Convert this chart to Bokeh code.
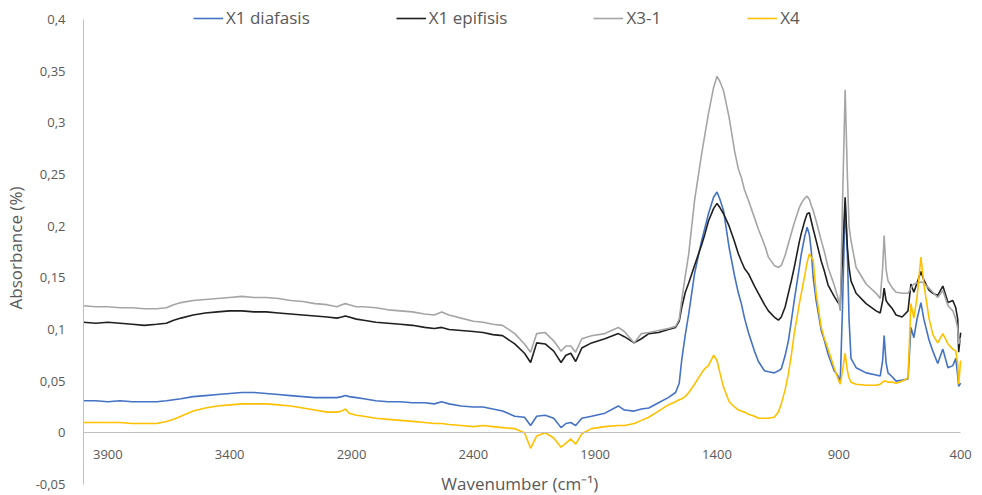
from bokeh.plotting import figure
from bokeh.models import (Range1d, LinearAxis, FixedTicker, CustomJSTickFormatter,
                          Legend, LegendItem)
from bokeh.embed import file_html
from bokeh.resources import INLINE

# ---- data ----
wavenumber = [
    4000, 3950, 3900, 3850, 3800, 3750, 3700, 3660, 3630, 3600,
    3550, 3500, 3450, 3400, 3350, 3300, 3250, 3200, 3150, 3100,
    3050, 3000, 2960, 2940, 2925, 2910, 2880, 2850, 2800, 2750,
    2700, 2650, 2600, 2560, 2530, 2500, 2450, 2400, 2360, 2320,
    2280, 2230, 2190, 2165, 2140, 2105, 2070, 2040, 2020, 2000,
    1980, 1955, 1915, 1860, 1805, 1780, 1740, 1710, 1680, 1640,
    1600, 1570, 1555, 1545, 1530, 1516, 1492, 1463, 1450, 1435,
    1414, 1400, 1388, 1373, 1350, 1328, 1312, 1300, 1287, 1271,
    1246, 1230, 1205, 1189, 1165, 1148, 1136, 1120, 1107, 1095,
    1083, 1062, 1054, 1040, 1030, 1021, 1013, 1005, 993, 972,
    960, 944, 919, 903, 894, 885, 874, 865, 858, 850,
    829, 788, 747, 730, 720, 714, 706, 698, 680, 665,
    640, 616, 604, 592, 579, 563, 551, 530, 514, 494,
    473, 452, 432, 420, 412, 408, 400,
]

x1_diafasis = [
    0.031, 0.031, 0.030, 0.031, 0.030, 0.030, 0.030, 0.031, 0.032, 0.033,
    0.035, 0.036, 0.037, 0.038, 0.039, 0.039, 0.038, 0.037, 0.036, 0.035,
    0.034, 0.034, 0.034, 0.035, 0.036, 0.035, 0.034, 0.033, 0.031, 0.030,
    0.030, 0.029, 0.029, 0.028, 0.030, 0.028, 0.026, 0.025, 0.025, 0.023,
    0.021, 0.016, 0.015, 0.007, 0.016, 0.017, 0.014, 0.005, 0.009, 0.010,
    0.007, 0.014, 0.016, 0.019, 0.026, 0.022, 0.021, 0.023, 0.024, 0.029,
    0.034, 0.039, 0.048, 0.070, 0.095, 0.115, 0.154, 0.186, 0.198, 0.212,
    0.228, 0.233, 0.226, 0.215, 0.179, 0.152, 0.135, 0.125, 0.111, 0.097,
    0.079, 0.069, 0.060, 0.059, 0.058, 0.060, 0.062, 0.075, 0.089, 0.108,
    0.128, 0.160, 0.173, 0.190, 0.199, 0.192, 0.176, 0.150, 0.128, 0.099,
    0.090, 0.076, 0.060, 0.055, 0.050, 0.120, 0.222, 0.175, 0.110, 0.072,
    0.063, 0.058, 0.056, 0.055, 0.070, 0.094, 0.068, 0.058, 0.054, 0.050,
    0.051, 0.052, 0.102, 0.092, 0.110, 0.126, 0.110, 0.090, 0.079, 0.067,
    0.081, 0.063, 0.065, 0.072, 0.055, 0.045, 0.048,
]

x1_epifisis = [
    0.107, 0.106, 0.107, 0.106, 0.105, 0.104, 0.105, 0.106, 0.109, 0.111,
    0.114, 0.116, 0.117, 0.118, 0.118, 0.117, 0.117, 0.116, 0.115, 0.114,
    0.113, 0.112, 0.111, 0.112, 0.113, 0.112, 0.110, 0.109, 0.107, 0.106,
    0.105, 0.104, 0.102, 0.101, 0.102, 0.100, 0.099, 0.098, 0.097, 0.095,
    0.094, 0.086, 0.077, 0.068, 0.087, 0.086, 0.079, 0.068, 0.075, 0.077,
    0.069, 0.082, 0.087, 0.091, 0.096, 0.093, 0.087, 0.091, 0.096, 0.097,
    0.100, 0.102, 0.108, 0.121, 0.136, 0.145, 0.162, 0.182, 0.192, 0.205,
    0.217, 0.222, 0.218, 0.212, 0.200, 0.185, 0.173, 0.166, 0.159, 0.154,
    0.142, 0.135, 0.124, 0.118, 0.112, 0.109, 0.112, 0.122, 0.135, 0.147,
    0.160, 0.185, 0.193, 0.205, 0.212, 0.213, 0.205, 0.197, 0.186, 0.166,
    0.157, 0.143, 0.132, 0.126, 0.124, 0.170, 0.228, 0.180, 0.160, 0.147,
    0.135, 0.125, 0.118, 0.116, 0.128, 0.140, 0.128, 0.125, 0.120, 0.114,
    0.112, 0.118, 0.144, 0.136, 0.145, 0.156, 0.148, 0.138, 0.135, 0.133,
    0.142, 0.126, 0.128, 0.121, 0.110, 0.078, 0.097,
]

x3_1 = [
    0.123, 0.122, 0.122, 0.121, 0.121, 0.120, 0.120, 0.121, 0.124, 0.126,
    0.128, 0.129, 0.130, 0.131, 0.132, 0.131, 0.131, 0.130, 0.128, 0.127,
    0.125, 0.124, 0.122, 0.124, 0.125, 0.124, 0.122, 0.122, 0.121, 0.119,
    0.118, 0.117, 0.115, 0.114, 0.117, 0.114, 0.111, 0.108, 0.107, 0.105,
    0.104, 0.096, 0.086, 0.078, 0.096, 0.097, 0.089, 0.079, 0.084, 0.084,
    0.078, 0.091, 0.094, 0.096, 0.102, 0.098, 0.087, 0.096, 0.097, 0.099,
    0.101, 0.103, 0.110, 0.128, 0.152, 0.173, 0.225, 0.270, 0.288, 0.309,
    0.334, 0.345, 0.340, 0.331, 0.305, 0.273, 0.255, 0.247, 0.235, 0.225,
    0.208, 0.197, 0.182, 0.170, 0.162, 0.160, 0.162, 0.172, 0.183, 0.193,
    0.203, 0.218, 0.222, 0.227, 0.229, 0.226, 0.220, 0.215, 0.205, 0.186,
    0.176, 0.160, 0.143, 0.130, 0.118, 0.220, 0.332, 0.250, 0.200, 0.186,
    0.160, 0.144, 0.135, 0.130, 0.160, 0.191, 0.158, 0.147, 0.140, 0.136,
    0.135, 0.135, 0.140, 0.144, 0.145, 0.146, 0.145, 0.140, 0.136, 0.131,
    0.138, 0.123, 0.118, 0.110, 0.101, 0.086, 0.092,
]

x4 = [
    0.010, 0.010, 0.010, 0.010, 0.009, 0.009, 0.009, 0.011, 0.013, 0.016,
    0.021, 0.024, 0.026, 0.027, 0.028, 0.028, 0.028, 0.027, 0.026, 0.024,
    0.022, 0.020, 0.020, 0.021, 0.023, 0.019, 0.017, 0.016, 0.014, 0.013,
    0.012, 0.011, 0.010, 0.009, 0.009, 0.008, 0.007, 0.006, 0.007, 0.006,
    0.005, 0.004, 0.000, -0.015, -0.003, 0.000, -0.005, -0.014, -0.010, -0.006,
    -0.011, -0.001, 0.004, 0.006, 0.007, 0.007, 0.009, 0.012, 0.015, 0.021,
    0.027, 0.030, 0.032, 0.033, 0.035, 0.039, 0.047, 0.058, 0.062, 0.065,
    0.075, 0.070, 0.058, 0.044, 0.030, 0.025, 0.022, 0.021, 0.020, 0.018,
    0.016, 0.014, 0.014, 0.014, 0.015, 0.020, 0.028, 0.042, 0.057, 0.075,
    0.096, 0.125, 0.135, 0.152, 0.165, 0.173, 0.170, 0.167, 0.135, 0.102,
    0.092, 0.081, 0.063, 0.052, 0.047, 0.060, 0.077, 0.060, 0.053, 0.049,
    0.047, 0.046, 0.046, 0.047, 0.049, 0.050, 0.050, 0.049, 0.049, 0.048,
    0.050, 0.053, 0.125, 0.111, 0.131, 0.170, 0.144, 0.111, 0.095, 0.087,
    0.096, 0.086, 0.081, 0.079, 0.067, 0.047, 0.070,
]

series_names = ["X1 diafasis", "X1 epifisis", "X3-1", "X4"]
series_colors = ["#4472C4", "#1F1F1F", "#A5A5A5", "#FFC000"]

x_ticks = [3900, 3400, 2900, 2400, 1900, 1400, 900, 400]
y_ticks = [-0.05, 0.0, 0.05, 0.1, 0.15, 0.2, 0.25, 0.3, 0.35, 0.4]

assert len(wavenumber) == len(x1_diafasis) == len(x1_epifisis) == len(x3_1) == len(x4)

FONT = "Open Sans"
TXT = "#595959"

# The frame spans the whole height so that legend and axis title are not clipped;
# the axis lines are bounded to the value range of the reference.
p = figure(width=982, height=495, output_backend="svg", toolbar_location=None,
           x_range=Range1d(4000, 339), y_range=Range1d(-0.0607, 0.4184),
           x_axis_location=None, y_axis_location="left",
           min_border_left=80, min_border_right=7, min_border_top=0,
           min_border_bottom=0)
p.outline_line_color = None
p.xgrid.visible = False
p.ygrid.visible = False
p.background_fill_color = "white"

# y axis
ya = p.yaxis[0]
ya.bounds = (-0.05, 0.4)
ya.ticker = FixedTicker(ticks=y_ticks)
ya.formatter = CustomJSTickFormatter(code=r"""
let s = tick.toFixed(2);
s = s.replace(/0+$/, '').replace(/\.$/, '');
if (s === '-0') { s = '0'; }
return s.replace('.', ',');
""")
ya.axis_line_color = "#BFBFBF"
ya.major_tick_line_color = None
ya.minor_tick_line_color = None
ya.major_label_text_font = FONT
ya.major_label_text_font_size = "13px"
ya.major_label_text_color = TXT
ya.major_label_standoff = 12
ya.axis_label = "Absorbance (%)"
ya.axis_label_text_font = FONT
ya.axis_label_text_font_size = "17px"
ya.axis_label_text_font_style = "normal"
ya.axis_label_text_color = TXT
ya.axis_label_standoff = 6

# x axis crossing at y = 0
xa = LinearAxis(fixed_location=0, ticker=FixedTicker(ticks=x_ticks),
                bounds=(400, 4000),
                axis_label="Wavenumber  (cm\u207b\u00b9)")
xa.axis_line_color = "#BFBFBF"
xa.major_tick_line_color = None
xa.minor_tick_line_color = None
xa.major_label_text_font = FONT
xa.major_label_text_font_size = "13px"
xa.major_label_text_color = TXT
xa.major_label_standoff = 11
xa.axis_label_text_font = FONT
xa.axis_label_text_font_size = "17px"
xa.axis_label_text_font_style = "normal"
xa.axis_label_text_color = TXT
xa.axis_label_standoff = 10
p.add_layout(xa, "below")

items = []
for name, ys, col in zip(series_names, [x1_diafasis, x1_epifisis, x3_1, x4], series_colors):
    r = p.line(wavenumber, ys, line_color=col, line_width=1.6)
    items.append(LegendItem(label=name, renderers=[r]))

legend = Legend(items=items, orientation="horizontal", location=(110, 466),
                border_line_color=None, background_fill_alpha=0,
                label_text_font=FONT, label_text_font_size="17px",
                label_text_color=TXT, glyph_width=30, glyph_height=20,
                label_standoff=3, spacing=86, padding=2, margin=0)
p.add_layout(legend, "center")

open("out.html", "w").write(file_html(p, INLINE))
